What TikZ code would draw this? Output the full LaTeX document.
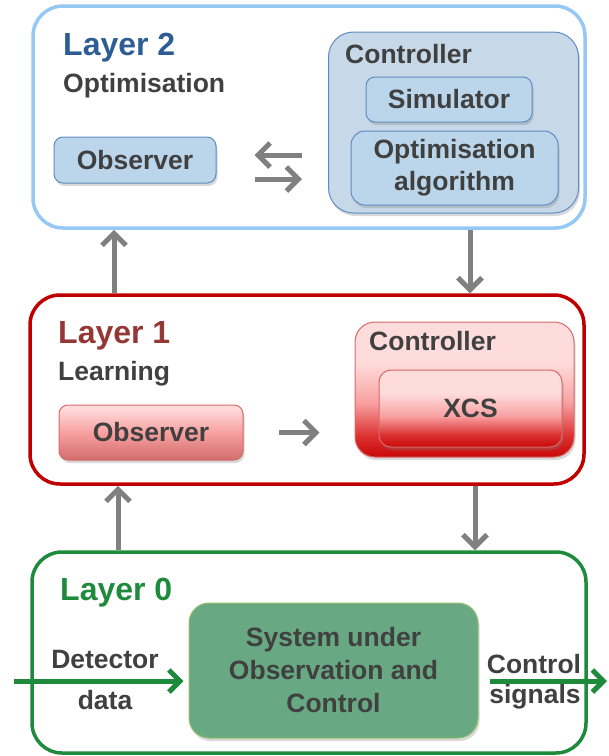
\documentclass[tikz,border=0pt]{standalone}
\usepackage{fontspec}
\setmainfont{Liberation Sans}
\usetikzlibrary{arrows.meta,shadows}

\definecolor{textgray}{RGB}{64,64,64}
\definecolor{blueline}{RGB}{150,200,245}
\definecolor{bluetitle}{RGB}{46,93,149}
\definecolor{bluefill}{RGB}{199,217,232}
\definecolor{blueinner}{RGB}{187,214,235}
\definecolor{blueedge}{RGB}{95,140,195}
\definecolor{redline}{RGB}{192,0,0}
\definecolor{redtitle}{RGB}{149,55,53}
\definecolor{pinktop}{RGB}{255,220,220}
\definecolor{pinkmid}{RGB}{248,160,160}
\definecolor{pinkbot}{RGB}{210,108,108}
\definecolor{redmid}{RGB}{220,50,50}
\definecolor{redbot}{RGB}{200,8,8}
\definecolor{pinkedge}{RGB}{215,105,105}
\definecolor{greenline}{RGB}{30,139,60}
\definecolor{greenfill}{RGB}{104,169,131}
\definecolor{greenedge}{RGB}{150,190,110}
\definecolor{arrowgray}{RGB}{128,128,128}

\pgfdeclareverticalshading{pinkshade}{100bp}{color(0bp)=(pinkbot); color(25bp)=(pinkbot); color(50bp)=(pinkmid); color(72bp)=(pinktop); color(100bp)=(pinktop)}
\pgfdeclareverticalshading{redshade}{100bp}{color(0bp)=(redbot); color(25bp)=(redbot); color(33bp)=(redmid); color(45bp)=(pinkmid); color(60bp)=(pinktop); color(100bp)=(pinktop)}

\tikzset{
  layerbox/.style={draw=#1, line width=3.5pt, rounded corners=30pt, inner sep=0pt},
  title/.style={anchor=base west, inner sep=0pt, text=#1,
    font=\fontsize{32}{38}\selectfont\bfseries},
  txt/.style={inner sep=0pt, text=textgray, align=center,
    font=\fontsize{26.5}{32}\selectfont\bfseries},
  boxshadow/.style={drop shadow={shadow xshift=1.5pt, shadow yshift=-3pt, opacity=.3}},
  bluebox/.style={txt, draw=blueedge, fill=blueinner, line width=1pt, rounded corners=9pt, boxshadow},
  pinkbox/.style={txt, draw=pinkedge, line width=1pt, rounded corners=9pt, shade, shading=pinkshade, boxshadow},
  redbox/.style={txt, draw=pinkedge, line width=1pt, rounded corners=#1, shade, shading=redshade, boxshadow},
  flow/.style={draw=arrowgray, line width=5pt, -{Straight Barb[length=12pt,width=24pt]}},
  gflow/.style={draw=greenline, line width=5pt, -{Straight Barb[length=11pt,width=22pt]}}
}

\begin{document}
\begin{tikzpicture}[x=1pt,y=-1pt]
\useasboundingbox (0,0) rectangle (609,756);

% layer 2
\node[layerbox=blueline, minimum width=552pt, minimum height=222pt] (lay2) at (309,117) {};
\node[title=bluetitle] (t2) at (63,55) {Layer 2};
\node[txt, anchor=base west] (s2) at (63,92) {Optimisation};
\node[bluebox, minimum width=162pt, minimum height=46pt] (obs2) at (135,160) {Observer};
\node[bluebox, fill=bluefill, rounded corners=25pt, minimum width=250pt, minimum height=181pt] (ctrl2) at (453.5,122.5) {};
\node[txt, anchor=base west] (c2) at (345,63) {Controller};
\node[bluebox, minimum width=166pt, minimum height=45pt] (sim) at (449,99.5) {Simulator};
\node[bluebox, rounded corners=14pt, minimum width=207pt, minimum height=74pt] (opt) at (454.5,168) {Optimisation\\algorithm};

% layer 1
\node[layerbox=redline, minimum width=554pt, minimum height=189pt] (lay1) at (307,389.5) {};
\node[title=redtitle] (t1) at (58,343) {Layer 1};
\node[txt, anchor=base west] (s1) at (58,380) {Learning};
\node[pinkbox, minimum width=184pt, minimum height=55pt] (obs1) at (151,432.5) {Observer};
\node[redbox=20pt, minimum width=219pt, minimum height=135pt] (ctrl1) at (464.5,389.5) {};
\node[txt, anchor=base west] (c1) at (369,350) {Controller};
\node[redbox=12pt, minimum width=183pt, minimum height=77pt] (xcs) at (470.5,408.5) {XCS};

% layer 0
\node[layerbox=greenline, minimum width=554pt, minimum height=201pt] (lay0) at (309,652.5) {};
\node[title=greenline] (t0) at (60,600) {Layer 0};
\node[txt, draw=greenedge, fill=greenfill, line width=1pt, rounded corners=20pt, boxshadow,
  font=\fontsize{26.5}{33}\selectfont\bfseries, minimum width=289pt, minimum height=135pt] (sys) at (333.5,670.5)
  {System under\\Observation and\\Control};
\node[txt, anchor=base] (det) at (105,668) {Detector};
\node[txt, anchor=base] (dat) at (105,709) {data};
\node[txt, anchor=base] (ctl) at (534,673) {Control};
\node[txt, anchor=base] (sig) at (535,703) {signals};

% between layers
\coordinate (upA) at (114,0);
\coordinate (downA) at (470,0);
\coordinate (upB) at (118,0);
\coordinate (downB) at (475,0);
\draw[flow] (lay1.north -| upA) -- (lay2.south -| upA);
\draw[flow] (lay2.south -| downA) -- (lay1.north -| downA);
\draw[flow] (lay0.north -| upB) -- (lay1.south -| upB);
\draw[flow] (lay1.south -| downB) -- (lay0.north -| downB);

% inside the layers
\path (obs2.east) ++(0,-5) coordinate (xa);
\path (obs2.east) ++(0,19) coordinate (xb);
\draw[flow, shorten <=26pt, shorten >=38pt] (xa -| ctrl2.west) -- (xa);
\draw[flow, shorten <=38pt, shorten >=26pt] (xb) -- (xb -| ctrl2.west);
\draw[flow, shorten <=35pt, shorten >=35pt] (obs1.east) -- (obs1.east -| ctrl1.west);

\coordinate (din) at (14,681);
\coordinate (dout) at (607,681);
\draw[gflow, shorten >=5pt] (din) -- (din -| sys.west);
\draw[gflow, shorten <=11pt] (dout -| sys.east) -- (dout);

\end{tikzpicture}
\end{document}
